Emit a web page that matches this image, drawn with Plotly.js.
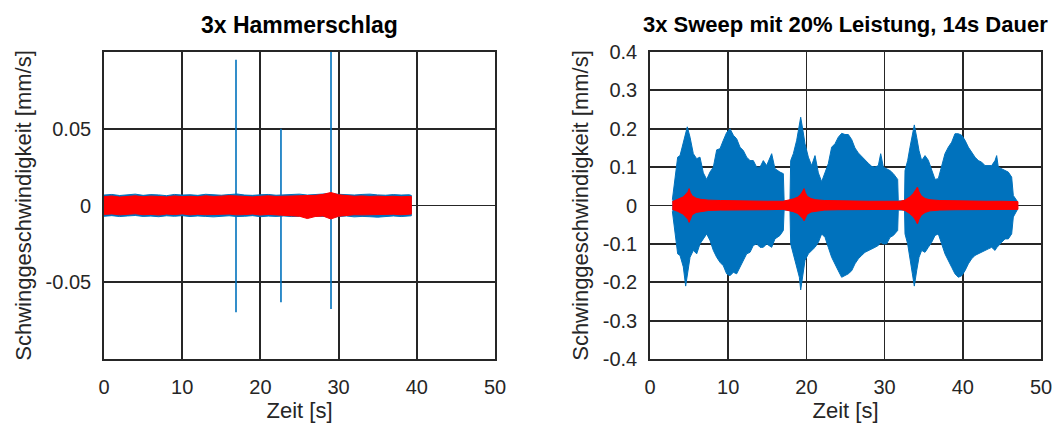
<!DOCTYPE html>
<html>
<head>
<meta charset="utf-8">
<script src="https://cdn.plot.ly/plotly-3.0.1.min.js"></script>
<style>html,body{margin:0;padding:0;background:#fff;}#chart{width:1055px;height:423px;}</style>
</head>
<body>
<div id="chart"></div>
<script>
// ---------- Shared ticks ----------
const tickX = [0, 10, 20, 30, 40, 50];
const tickLabelsX = ['0', '10', '20', '30', '40', '50'];
const leftTickY = [-0.05, 0, 0.05];
const leftTickLabelsY = ['-0.05', '0', '0.05'];
const rightTickY = [-0.4, -0.3, -0.2, -0.1, 0, 0.1, 0.2, 0.3, 0.4];
const rightTickLabelsY = ['-0.4', '-0.3', '-0.2', '-0.1', '0', '0.1', '0.2', '0.3', '0.4'];

// ---------- Left panel: 3x Hammerschlag ----------
// envelope of the blue (measured) noise band
const tL = [0,1,2,3,4,5,6,7,8,9,10,11,12,13,14,15,16,17,18,19,20,21,22,23,24,25,26,27,28,29,30,31,32,33,34,35,36,37,38,39,39.3];
const blueLUpper = [0.0068,0.0072,0.0065,0.0070,0.0074,0.0066,0.0071,0.0069,0.0064,0.0072,0.0068,0.0070,0.0066,0.0073,0.0069,0.0067,0.0071,0.0075,0.0068,0.0066,0.0070,0.0072,0.0067,0.0069,0.0071,0.0074,0.0068,0.0072,0.0076,0.0078,0.0073,0.0070,0.0068,0.0072,0.0074,0.0069,0.0067,0.0071,0.0068,0.0070,0.0066];
const blueLLower = [-0.0070,-0.0066,-0.0072,-0.0068,-0.0065,-0.0071,-0.0069,-0.0073,-0.0067,-0.0070,-0.0066,-0.0072,-0.0068,-0.0071,-0.0074,-0.0069,-0.0067,-0.0072,-0.0070,-0.0066,-0.0073,-0.0069,-0.0071,-0.0068,-0.0072,-0.0070,-0.0075,-0.0069,-0.0071,-0.0076,-0.0072,-0.0068,-0.0074,-0.0071,-0.0073,-0.0076,-0.0070,-0.0068,-0.0072,-0.0069,-0.0067];
// envelope of the red band
const redLUpper = [0.0058,0.0062,0.0055,0.0060,0.0063,0.0057,0.0061,0.0059,0.0056,0.0062,0.0058,0.0060,0.0057,0.0063,0.0059,0.0061,0.0064,0.0062,0.0058,0.0056,0.0060,0.0063,0.0059,0.0061,0.0062,0.0060,0.0064,0.0066,0.0072,0.0085,0.0070,0.0064,0.0060,0.0062,0.0059,0.0061,0.0058,0.0060,0.0057,0.0059,0.0058];
const redLLower = [-0.0058,-0.0055,-0.0061,-0.0057,-0.0054,-0.0060,-0.0058,-0.0062,-0.0056,-0.0059,-0.0055,-0.0061,-0.0057,-0.0060,-0.0062,-0.0058,-0.0056,-0.0061,-0.0059,-0.0056,-0.0062,-0.0058,-0.0060,-0.0063,-0.0066,-0.0070,-0.0085,-0.0072,-0.0068,-0.0088,-0.0070,-0.0063,-0.0060,-0.0061,-0.0059,-0.0062,-0.0058,-0.0057,-0.0060,-0.0058,-0.0056];
// hammer impacts (blue spikes)
const spikeT = [16.88, 22.63, 29.03];
const spikeTop = [0.095, 0.050, 0.105];
const spikeBottom = [-0.0695, -0.063, -0.0675];

// ---------- Right panel: 3x Sweep ----------
const tS = [2.86,3.54,3.84,4.26,4.56,4.77,5.12,5.54,5.97,6.39,6.82,7.25,7.67,8.10,8.53,8.95,9.38,9.80,10.23,10.66,11.08,11.51,11.94,12.36,12.79,13.21,13.64,14.07,14.49,14.92,15.56,15.98,16.62,17.05,
  17.15,17.90,
  17.99,18.33,18.76,19.10,19.27,19.52,19.82,20.25,20.67,21.10,21.53,21.95,22.38,22.80,23.23,23.66,24.08,24.51,24.94,25.36,25.79,26.21,26.64,27.07,27.49,27.92,28.35,28.77,29.20,29.50,29.84,30.26,30.69,31.12,31.67,
  31.75,32.55,
  32.61,32.95,33.25,33.55,33.80,34.10,34.40,34.74,35.17,35.59,36.02,36.45,36.87,37.30,37.72,38.15,38.58,39.00,39.43,39.86,40.28,40.71,41.13,41.56,41.99,42.41,42.84,43.27,43.69,44.12,44.33,44.54,44.97,45.40,45.82,46.25,46.46,47.00];
const sweepUpper = [0.015,0.126,0.130,0.161,0.190,0.205,0.178,0.135,0.122,0.126,0.085,0.068,0.087,0.100,0.145,0.148,0.170,0.190,0.200,0.183,0.174,0.152,0.143,0.126,0.117,0.117,0.100,0.100,0.117,0.104,0.135,0.096,0.087,0.083,
  0.012,0.012,
  0.117,0.135,0.170,0.205,0.230,0.200,0.161,0.126,0.104,0.130,0.085,0.062,0.087,0.109,0.152,0.161,0.178,0.188,0.185,0.185,0.172,0.150,0.137,0.128,0.117,0.110,0.102,0.100,0.104,0.135,0.100,0.096,0.091,0.083,0.068,
  0.012,0.012,
  0.091,0.117,0.152,0.187,0.210,0.178,0.143,0.117,0.130,0.118,0.091,0.068,0.070,0.104,0.135,0.152,0.165,0.187,0.187,0.183,0.170,0.152,0.139,0.126,0.117,0.113,0.104,0.104,0.104,0.117,0.130,0.100,0.096,0.091,0.087,0.074,0.026,0.010];
const sweepLower = [-0.015,-0.126,-0.130,-0.160,-0.210,-0.175,-0.135,-0.117,-0.126,-0.100,-0.087,-0.074,-0.091,-0.117,-0.135,-0.148,-0.157,-0.178,-0.183,-0.174,-0.178,-0.161,-0.143,-0.126,-0.122,-0.104,-0.100,-0.109,-0.109,-0.100,-0.109,-0.087,-0.078,-0.065,
  -0.012,-0.012,
  -0.100,-0.126,-0.161,-0.187,-0.220,-0.187,-0.143,-0.126,-0.117,-0.109,-0.096,-0.074,-0.083,-0.109,-0.135,-0.152,-0.170,-0.187,-0.183,-0.178,-0.170,-0.152,-0.139,-0.130,-0.122,-0.117,-0.113,-0.109,-0.104,-0.096,-0.100,-0.100,-0.083,-0.078,-0.065,
  -0.012,-0.012,
  -0.074,-0.100,-0.143,-0.178,-0.210,-0.170,-0.135,-0.117,-0.122,-0.109,-0.096,-0.078,-0.074,-0.100,-0.126,-0.143,-0.161,-0.178,-0.187,-0.183,-0.170,-0.152,-0.139,-0.130,-0.126,-0.122,-0.117,-0.113,-0.109,-0.117,-0.110,-0.104,-0.096,-0.087,-0.087,-0.074,-0.030,-0.010];

// red band, right panel
const tR = [2.85,3.5,4.2,4.6,4.85,5.0,5.15,5.4,5.9,6.5,7.5,9,11,13,15,17,17.6,18.3,18.9,19.3,19.55,19.7,19.85,20.1,20.6,21.2,22.3,24,26,28,30,32,32.6,33.2,33.7,34.0,34.2,34.4,34.7,35.2,35.8,37,39,41,43,45,47.05];
const redSUpper = [0.010,0.015,0.022,0.030,0.036,0.044,0.034,0.025,0.019,0.016,0.014,0.013,0.012,0.012,0.011,0.011,0.013,0.017,0.022,0.030,0.038,0.044,0.034,0.024,0.018,0.015,0.013,0.012,0.012,0.011,0.011,0.011,0.014,0.022,0.032,0.040,0.048,0.036,0.025,0.018,0.015,0.013,0.012,0.012,0.011,0.011,0.010];
const redSLower = [-0.010,-0.015,-0.022,-0.030,-0.036,-0.044,-0.034,-0.024,-0.018,-0.015,-0.013,-0.012,-0.011,-0.011,-0.011,-0.010,-0.012,-0.016,-0.021,-0.028,-0.034,-0.040,-0.032,-0.023,-0.017,-0.014,-0.012,-0.011,-0.011,-0.011,-0.010,-0.010,-0.013,-0.021,-0.030,-0.040,-0.048,-0.036,-0.025,-0.018,-0.014,-0.012,-0.011,-0.011,-0.011,-0.010,-0.010];

const BLUE = '#0072BD';
const RED = '#FF0000';

function band(t, up, lo, color, xa, ya) {
  const xs = t.concat(t.slice().reverse());
  const ys = up.concat(lo.slice().reverse());
  return {x: xs, y: ys, xaxis: xa, yaxis: ya, mode: 'lines', fill: 'toself',
    fillcolor: color, line: {color: color, width: 1}, hoverinfo: 'skip', showlegend: false};
}
function spikes(t, top, bot, color, xa, ya) {
  const xs = [], ys = [];
  for (let i = 0; i < t.length; i++) { xs.push(t[i], t[i], null); ys.push(bot[i], top[i], null); }
  return {x: xs, y: ys, xaxis: xa, yaxis: ya, mode: 'lines', line: {color: color, width: 1.6}, showlegend: false};
}

const traces = [
  band(tL, blueLUpper, blueLLower, BLUE, 'x', 'y'),
  spikes(spikeT, spikeTop, spikeBottom, BLUE, 'x', 'y'),
  band(tL, redLUpper, redLLower, RED, 'x', 'y'),
  band(tS, sweepUpper, sweepLower, BLUE, 'x2', 'y2'),
  band(tR, redSUpper, redSLower, RED, 'x2', 'y2')
];

const FONT = 'Liberation Sans, Arial, Helvetica, sans-serif';
const GRID = '#262626';
function xAx(domain, anchor) {
  return {domain: domain, anchor: anchor, range: [0, 50], tickvals: tickX, ticktext: tickLabelsX,
    showgrid: true, gridcolor: GRID, gridwidth: 1.8, zeroline: false,
    showline: true, mirror: true, linecolor: GRID, linewidth: 1.8,
    ticks: '', ticklabelstandoff: 9, tickfont: {family: FONT, size: 20, color: GRID},
    title: {text: 'Zeit [s]', font: {family: FONT, size: 22, color: GRID}, standoff: 5},
    automargin: false, fixedrange: true};
}
function yAx(domain, anchor, range, tv, tt) {
  return {domain: domain, anchor: anchor, range: range, tickvals: tv, ticktext: tt,
    showgrid: true, gridcolor: GRID, gridwidth: 1.8, zeroline: false,
    showline: true, mirror: true, linecolor: GRID, linewidth: 1.8,
    ticks: '', ticklabelstandoff: 7, tickfont: {family: FONT, size: 20, color: GRID},
    title: {text: 'Schwinggeschwindigkeit [mm/s]', font: {family: FONT, size: 22, color: GRID}, standoff: 8},
    automargin: false, fixedrange: true};
}
const yDom = [1 - 359/423, 1 - 52/423];
const layout = {
  width: 1055, height: 423,
  margin: {l: 0, r: 0, t: 0, b: 0},
  paper_bgcolor: '#ffffff', plot_bgcolor: '#ffffff',
  showlegend: false,
  xaxis: xAx([104/1055, 495/1055], 'y'),
  yaxis: yAx(yDom, 'x', [-0.1, 0.1], leftTickY, leftTickLabelsY),
  xaxis2: xAx([650/1055, 1041/1055], 'y2'),
  yaxis2: yAx(yDom, 'x2', [-0.4, 0.4], rightTickY, rightTickLabelsY),
  annotations: [
    {text: '<b>3x Hammerschlag</b>', xref: 'paper', yref: 'paper', x: 299.5/1055, y: 1 - 25/423,
     xanchor: 'center', yanchor: 'middle', showarrow: false, font: {family: FONT, size: 23, color: '#000'}},
    {text: '<b>3x Sweep mit 20% Leistung, 14s Dauer</b>', xref: 'paper', yref: 'paper', x: 1050/1055, y: 1 - 25/423,
     xanchor: 'right', yanchor: 'middle', showarrow: false, font: {family: FONT, size: 22, color: '#000'}}
  ]
};
Plotly.newPlot('chart', traces, layout, {staticPlot: true, displayModeBar: false});
</script>
</body>
</html>
